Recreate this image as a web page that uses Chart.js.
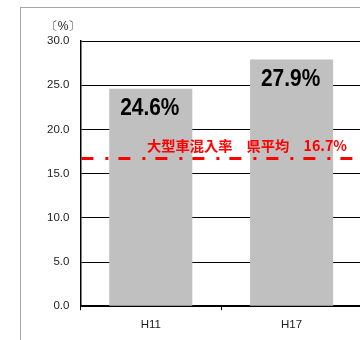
<!DOCTYPE html>
<html>
<head>
<meta charset="utf-8">
<script src="https://cdn.jsdelivr.net/npm/chart.js@4.4.0/dist/chart.umd.min.js"></script>
<style>
    html, body { margin: 0; padding: 0; background: #fff; }
    #wrap { width: 360px; height: 340px; overflow: hidden; position: relative; }
    canvas { display: block; }
</style>
</head>
<body>
<div id="wrap"><canvas id="mixChart" width="380" height="340"></canvas></div>
<script>
        const years = ['H11', 'H17'];
        const mixRates = [24.6, 27.9];
        const yMin = 0;
        const yMax = 30;
        const yStep = 5;
        const prefAverage = 16.7;
        const averageText = ['大型車混入率', '県平均'];
        const unitLabel = '〔%〕';

        const barGray = '#C0C0C0';
        const lineRed = '#FF0000';

        // draw text squeezed/stretched to a given width
        function drawFitted(ctx, text, x, y, width) {
            const w = ctx.measureText(text).width;
            ctx.save();
            ctx.translate(x, y);
            ctx.scale(width / w, 1);
            ctx.textAlign = 'left';
            ctx.fillText(text, 0, 0);
            ctx.restore();
        }

        const decorations = {
            id: 'decorations',
            beforeDraw(chart) {
                const ctx = chart.ctx;
                ctx.save();
                ctx.strokeStyle = '#A6A6A6';
                ctx.lineWidth = 1;
                ctx.strokeRect(20.5, 7.5, 600, 600);
                ctx.restore();
            },
            afterDatasetsDraw(chart) {
                const { ctx, chartArea, scales } = chart;
                const y = scales.y.getPixelForValue(prefAverage);
                ctx.save();

                // prefecture average line
                ctx.strokeStyle = lineRed;
                ctx.lineWidth = 3;
                ctx.setLineDash([12, 12, 3, 10]);
                ctx.beginPath();
                ctx.moveTo(chartArea.left + 1, y);
                ctx.lineTo(chartArea.right, y);
                ctx.stroke();
                ctx.setLineDash([]);

                ctx.fillStyle = lineRed;
                ctx.font = 'bold 14px "Noto Sans CJK JP"';
                ctx.textBaseline = 'middle';
                const txt = averageText[0] + '\u3000' + averageText[1] + '\u3000' + prefAverage.toFixed(1) + '%';
                drawFitted(ctx, txt, 147, y - 12.5, 200);

                // value labels on bars
                ctx.fillStyle = '#000';
                ctx.font = 'bold 24px "Liberation Sans"';
                ctx.textBaseline = 'middle';
                chart.getDatasetMeta(0).data.forEach((bar, i) => {
                    const label = mixRates[i].toFixed(1) + '%';
                    const w = ctx.measureText(label).width * 0.87;
                    drawFitted(ctx, label, bar.x - w / 2 - 1, bar.y + 20, w);
                });

                // unit
                ctx.fillStyle = '#222';
                ctx.font = '12px "Liberation Sans"';
                ctx.textAlign = 'center';
                ctx.fillText(unitLabel, 63, 27);
                ctx.restore();
            }
        };

        const ctx = document.getElementById('mixChart').getContext('2d');
        new Chart(ctx, {
            type: 'bar',
            data: {
                labels: years,
                datasets: [{
                    data: mixRates,
                    backgroundColor: barGray,
                    borderWidth: 0,
                    barPercentage: 0.59,
                    categoryPercentage: 1.0
                }]
            },
            options: {
                responsive: false,
                animation: false,
                events: [],
                layout: { padding: { left: 36, top: 41, right: 18, bottom: 0 } },
                scales: {
                    x: {
                        grid: { display: true, drawOnChartArea: false, drawTicks: true, tickLength: 4, color: '#000' },
                        border: { display: true, color: '#000', width: 1.5 },
                        ticks: { color: '#222', padding: 8, font: { family: 'Liberation Sans', size: 11.5 } }
                    },
                    y: {
                        min: yMin,
                        max: yMax,
                        grid: { color: '#000', drawTicks: false },
                        border: { display: true, color: '#000', width: 1.5 },
                        ticks: {
                            stepSize: yStep,
                            padding: 11,
                            color: '#222',
                            font: { family: 'Liberation Sans', size: 11.5 },
                            callback: function(value) { return value.toFixed(1); }
                        }
                    }
                },
                plugins: {
                    legend: { display: false },
                    tooltip: { enabled: false }
                }
            },
            plugins: [decorations]
        });
</script>
</body>
</html>
